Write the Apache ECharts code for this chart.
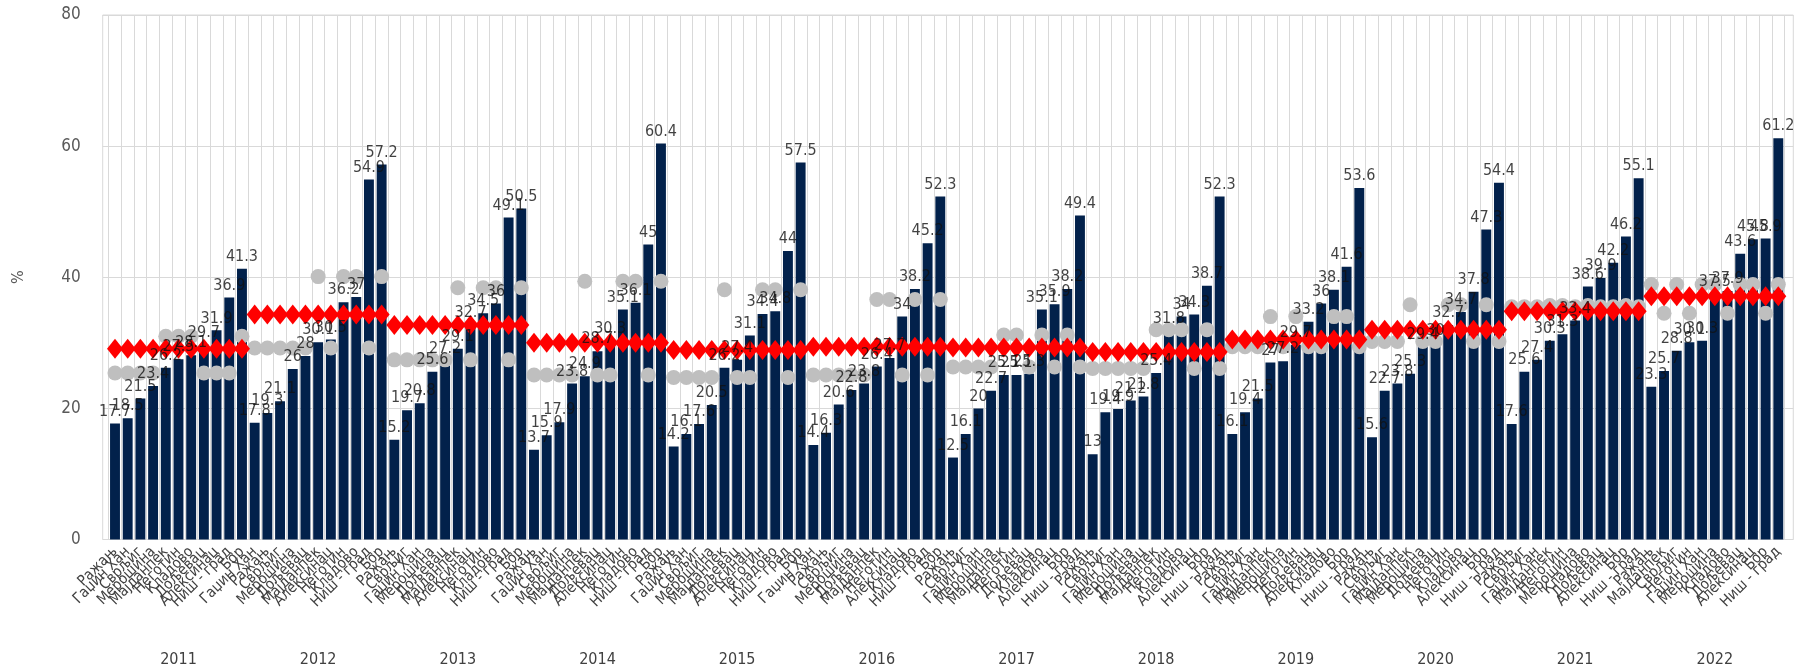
<!DOCTYPE html>
<html><head><meta charset="utf-8">
<script src="https://cdn.jsdelivr.net/npm/echarts@6/dist/echarts.min.js"></script>
<style>html,body{margin:0;padding:0;background:#fff}#c{width:1805px;height:669px}</style>
</head><body><div id="c"></div>
<script>
// ---------- DATA ----------
const years = ['2011','2012','2013','2014','2015','2016','2017','2018','2019','2020','2021','2022'];

const names2011 = ['Ражањ','Гаџин Хан','Сврљиг','Мерошина','Мајданпек','Неготин','Кладово','Дољевац','Алексинац','Ниш - град','Бор'];
const names2012 = ['Гаџин Хан','Ражањ','Сврљиг','Мерошина','Дољевац','Мајданпек','Алексинац','Неготин','Кладово','Ниш - град','Бор'];
const names2013 = ['Ражањ','Сврљиг','Гаџин Хан','Мерошина','Дољевац','Мајданпек','Алексинац','Неготин','Кладово','Ниш - град','Бор'];
const names2014 = ['Ражањ','Гаџин Хан','Сврљиг','Мерошина','Мајданпек','Дољевац','Алексинац','Неготин','Кладово','Ниш - град','Бор'];
const names2015 = ['Ражањ','Гаџин Хан','Сврљиг','Мерошина','Мајданпек','Дољевац','Алексинац','Неготин','Кладово','Ниш - град','Бор'];
const names2016 = ['Гаџин Хан','Ражањ','Сврљиг','Мерошина','Дољевац','Мајданпек','Неготин','Алексинац','Кладово','Ниш - град','Бор'];
const names2017 = ['Ражањ','Сврљиг','Гаџин Хан','Мерошина','Мајданпек','Неготин','Дољевац','Кладово','Алексинац','Бор','Ниш - град'];
const names2018 = ['Ражањ','Сврљиг','Гаџин Хан','Мерошина','Дољевац','Мајданпек','Неготин','Кладово','Алексинац','Бор','Ниш - град'];
const names2019 = ['Ражањ','Сврљиг','Гаџин Хан','Мајданпек','Мерошина','Неготин','Дољевац','Алексинац','Кладово','Бор','Ниш - град'];
const names2020 = ['Ражањ','Сврљиг','Гаџин Хан','Мајданпек','Мерошина','Дољевац','Неготин','Кладово','Алексинац','Бор','Ниш - град'];
const names2021 = ['Ражањ','Сврљиг','Гаџин Хан','Мајданпек','Неготин','Мерошина','Кладово','Дољевац','Алексинац','Бор','Ниш - град'];
const names2022 = ['Ражањ','Мајданпек','Сврљиг','Неготин','Гаџин Хан','Мерошина','Кладово','Дољевац','Алексинац','Бор','Ниш - град'];

const values2011 = [17.7, 18.5, 21.5, 23.4, 26.2, 27.5, 28.1, 29.7, 31.9, 36.9, 41.3];
const values2012 = [17.8, 19.3, 21.1, 26, 28, 30.1, 30.5, 36.2, 37, 54.9, 57.2];
const values2013 = [15.2, 19.7, 20.8, 25.6, 27.2, 29.1, 32.7, 34.5, 36, 49.1, 50.5];
const values2014 = [13.7, 15.9, 17.9, 23.8, 24.9, 28.7, 30.3, 35.1, 36.1, 45, 60.4];
const values2015 = [14.2, 16.1, 17.6, 20.5, 26.2, 27.4, 31.1, 34.4, 34.8, 44, 57.5];
const values2016 = [14.4, 16.3, 20.6, 22.8, 23.8, 26.4, 27.7, 34, 38.2, 45.2, 52.3];
const values2017 = [12.5, 16.1, 20, 22.7, 25.1, 25.1, 25.3, 35.1, 35.9, 38.2, 49.4];
const values2018 = [13, 19.4, 19.9, 21.2, 21.8, 25.4, 31.8, 34, 34.3, 38.7, 52.3];
const values2019 = [16.1, 19.4, 21.5, 27, 27.2, 29.7, 33.2, 36, 38.1, 41.6, 53.6];
const values2020 = [15.6, 22.7, 23.8, 25.3, 29.4, 30, 32.7, 34.7, 37.8, 47.3, 54.4];
const values2021 = [17.6, 25.6, 27.4, 30.3, 31.3, 33.4, 38.6, 39.9, 42.2, 46.2, 55.1];
const values2022 = [23.3, 25.7, 28.8, 30.1, 30.3, 37.5, 37.9, 43.6, 45.8, 45.9, 61.2];

// district averages (gray circles) and overall average (red diamonds), per year
const nisavaDistrict = [25.4, 29.2, 27.4, 25.1, 24.7, 25.1, 26.3, 26.1, 29.4, 30.2, 35.5, 38.9];
const borDistrict    = [31.0, 40.1, 38.4, 39.4, 38.1, 36.6, 31.2, 32.0, 34.0, 35.8, 35.7, 34.5];
const serbiaAverage  = [29.1, 34.3, 32.7, 30.0, 28.9, 29.4, 29.3, 28.6, 30.5, 32.0, 34.8, 37.1];
const borMunicipalities = ['Мајданпек','Неготин','Кладово','Бор'];

const yTicks = {min: 0, max: 80, interval: 20};

// ---------- BUILD ----------
const namesByYear = [names2011,names2012,names2013,names2014,names2015,names2016,names2017,names2018,names2019,names2020,names2021,names2022];
const valuesByYear = [values2011,values2012,values2013,values2014,values2015,values2016,values2017,values2018,values2019,values2020,values2021,values2022];

const categories = [], barData = [], grayData = [], redData = [];
namesByYear.forEach((names, yi) => {
  names.forEach((n, i) => {
    categories.push(n);
    barData.push(valuesByYear[yi][i]);
    grayData.push(borMunicipalities.includes(n) ? borDistrict[yi] : nisavaDistrict[yi]);
    redData.push(serbiaAverage[yi]);
  });
});

const FONT = "'Liberation Sans Narrow','DejaVu Sans Condensed','Liberation Sans',sans-serif";
const chart = echarts.init(document.getElementById('c'), null, {renderer: 'canvas'});
chart.setOption({
  backgroundColor: '#ffffff',
  animation: false,
  textStyle: {fontFamily: FONT},
  grid: [
    {left: 102.7, right: 11.7, top: 15, bottom: 129.5, show: true, borderColor: '#d9d9d9', borderWidth: 1},
    {left: 108.65, right: 20.35, top: 15, bottom: 129.5}
  ],
  xAxis: [
    {gridIndex: 0, type: 'value', min: 0, max: 1, show: false},
    {gridIndex: 1, type: 'category', data: categories, boundaryGap: true,
      axisLine: {show: false}, axisTick: {show: false},
      splitLine: {show: true, interval: 0, lineStyle: {color: '#d9d9d9', width: 1}},
      axisLabel: {interval: 0, rotate: 45, margin: 10, fontSize: 15, color: '#404040', fontFamily: FONT}},
    {gridIndex: 1, type: 'category', data: years, position: 'bottom', offset: 104,
      axisLine: {show: false}, axisTick: {show: false}, splitLine: {show: false},
      axisLabel: {interval: 0, fontSize: 16, color: '#404040', margin: 8, fontFamily: FONT}}
  ],
  yAxis: [
    {gridIndex: 0, type: 'value', min: yTicks.min, max: yTicks.max, interval: yTicks.interval,
      name: '%', nameLocation: 'middle', nameRotate: 90, nameGap: 76,
      nameTextStyle: {fontSize: 16, color: '#595959', fontFamily: FONT},
      axisLine: {show: false}, axisTick: {show: false},
      axisLabel: {fontSize: 17, color: '#595959', margin: 22, fontFamily: FONT},
      splitLine: {show: true, lineStyle: {color: '#d9d9d9', width: 1}}},
    {gridIndex: 1, type: 'value', min: yTicks.min, max: yTicks.max, interval: yTicks.interval, show: false, splitLine: {show: false}}
  ],
  series: [
    {name: 'Општина', type: 'bar', xAxisIndex: 1, yAxisIndex: 1, data: barData,
      barCategoryGap: '22%', itemStyle: {color: '#02214b'}, z: 2},
    {name: 'Округ', type: 'scatter', xAxisIndex: 1, yAxisIndex: 1, data: grayData,
      symbol: 'circle', symbolSize: 15, itemStyle: {color: '#bfbfbf', opacity: 1}, z: 3},
    {name: 'Србија', type: 'scatter', xAxisIndex: 1, yAxisIndex: 1, data: redData,
      symbol: 'diamond', symbolSize: [16, 20], itemStyle: {color: '#ff0000', opacity: 1}, z: 4},
    {name: 'labels', type: 'scatter', xAxisIndex: 1, yAxisIndex: 1, data: barData,
      symbolSize: 0, silent: true, z: 10,
      label: {show: true, position: 'top', distance: 4, fontSize: 16, color: '#111', fontFamily: FONT,
        formatter: p => String(p.value)}}
  ]
});
</script></body></html>
